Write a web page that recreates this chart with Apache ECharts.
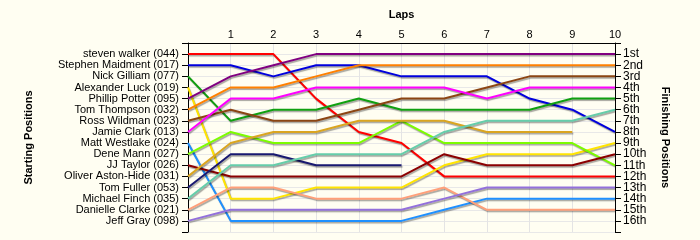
<!DOCTYPE html>
<html>
<head>
<meta charset="utf-8">
<script src="https://cdn.jsdelivr.net/npm/echarts@6/dist/echarts.min.js"></script>
<style>
html,body{margin:0;padding:0;background:#FFFEF2;}
#c{width:700px;height:240px;}
</style>
</head>
<body>
<div id="c"></div>
<script>
// Drivers in starting order
const drivers = [
  "steven walker (044)", "Stephen Maidment (017)", "Nick Gilliam (077)", "Alexander Luck (019)",
  "Phillip Potter (095)", "Tom Thompson (032)", "Ross Wildman (023)", "Jamie Clark (013)",
  "Matt Westlake (024)", "Dene Mann (027)", "JJ Taylor (026)", "Oliver Aston-Hide (031)",
  "Tom Fuller (053)", "Michael Finch (035)", "Danielle Clarke (021)", "Jeff Gray (098)"
];
const finishLabels = ["1st","2nd","3rd","4th","5th","6th","7th","8th","9th","10th","11th","12th","13th","14th","15th","16th"];
const lapLabels = ["1","2","3","4","5","6","7","8","9","10"];
// positions at lap 0..10 (shorter = retired)
const pos_walker    = [1,1,1,5,8,9,12,12,12,12,12];
const pos_maidment  = [2,2,3,2,2,3,3,3,5,6,8];
const pos_gilliam   = [3,7,6,6,5,6,6,6,6,5,5];
const pos_luck      = [4,14,14,13,13,13,11,10,10,10,9];
const pos_potter    = [5,3,2,1,1,1,1,1,1,1,1];
const pos_thompson  = [6,4,4,3,2,2,2,2,2,2,2];
const pos_wildman   = [7,6,7,7,6,5,5,4,3,3,3];
const pos_clark     = [8,5,5,4,4,4,4,5,4,4,4];
const pos_westlake  = [9,16,16,16,16,16,15,14,14,14,14];
const pos_mann      = [10,8,9,9,9,7,9,9,9,9,11];
const pos_taylor    = [11,12,12,12,12,12,10,11,11,11,10];
const pos_astonhide = [12,9,8,8,7,7,7,8,8,8];
const pos_fuller    = [13,10,10,11,11,11];
const pos_finch     = [14,11,11,10,10,10,8,7,7,7,6];
const pos_dclarke   = [15,13,13,14,14,14,13,15,15,15,15];
const pos_gray      = [16,15,15,15,15,15,14,13,13,13,13];

const positions = [pos_walker,pos_maidment,pos_gilliam,pos_luck,pos_potter,pos_thompson,pos_wildman,pos_clark,
  pos_westlake,pos_mann,pos_taylor,pos_astonhide,pos_fuller,pos_finch,pos_dclarke,pos_gray];
const colors = ["#FF0000","#0000DD","#10A010","#FFE400","#800080","#FF8000","#8B4513","#FF00FF",
  "#1E90FF","#7CFC00","#8B0000","#DAA520","#191970","#66CDAA","#FFA07A","#9370DB"];

const series = positions.map((p,i)=>({
  type:'line', name:drivers[i], symbol:'none', silent:true,
  data:p.map((v,lap)=>[lap,v]),
  lineStyle:{color:colors[i], width:2, shadowColor:'rgba(0,0,0,0.35)', shadowBlur:1, shadowOffsetX:1, shadowOffsetY:1.5},
  itemStyle:{color:colors[i]},
  z: 2
}));

const font = 'Liberation Sans, Arial, sans-serif';
const chart = echarts.init(document.getElementById('c'), null, {renderer:'canvas'});
chart.setOption({
  backgroundColor:'#FFFEF2',
  animation:false,
  grid:{left:188, right:85, top:43, bottom:8, containLabel:false},
  xAxis:{
    type:'value', position:'top', min:0, max:10, interval:1,
    name:'Laps', nameLocation:'middle', nameGap:23,
    nameTextStyle:{fontFamily:font, fontWeight:'bold', fontSize:11, color:'#000'},
    axisLine:{show:true, lineStyle:{color:'#000', width:1}},
    axisTick:{show:false},
    axisLabel:{margin:3, fontFamily:font, fontSize:11, color:'#000',
      formatter:v=> (v>=1 && v<=10) ? lapLabels[v-1] : ''},
    splitLine:{show:true, lineStyle:{color:'#E4E4E4', width:1}}
  },
  yAxis:[{
    type:'value', inverse:true, min:0, max:17, interval:1, position:'left',
    name:'Starting Positions', nameLocation:'middle', nameGap:154, nameRotate:90,
    nameTextStyle:{fontFamily:font, fontWeight:'bold', fontSize:11, color:'#000'},
    axisLine:{show:true, onZero:false, lineStyle:{color:'#000', width:1}},
    axisTick:{show:true, length:6, lineStyle:{color:'#000'}},
    axisLabel:{margin:9, fontFamily:font, fontSize:11, color:'#000',
      formatter:v=> (v>=1 && v<=16) ? drivers[v-1] : ''},
    splitLine:{show:true, lineStyle:{color:'#E8E8E8', width:1}}
  },{
    type:'value', inverse:true, min:0, max:17, interval:1, position:'right',
    name:'Finishing Positions', nameLocation:'middle', nameGap:45, nameRotate:-90,
    nameTextStyle:{fontFamily:font, fontWeight:'bold', fontSize:11, color:'#000'},
    axisLine:{show:true, onZero:false, lineStyle:{color:'#000', width:1}},
    axisTick:{show:true, length:6, lineStyle:{color:'#000'}},
    axisLabel:{margin:8, fontFamily:font, fontSize:12, color:'#000',
      formatter:v=> (v>=1 && v<=16) ? finishLabels[v-1] : ''},
    splitLine:{show:false}
  }],
  series: series
});
</script>
</body>
</html>
